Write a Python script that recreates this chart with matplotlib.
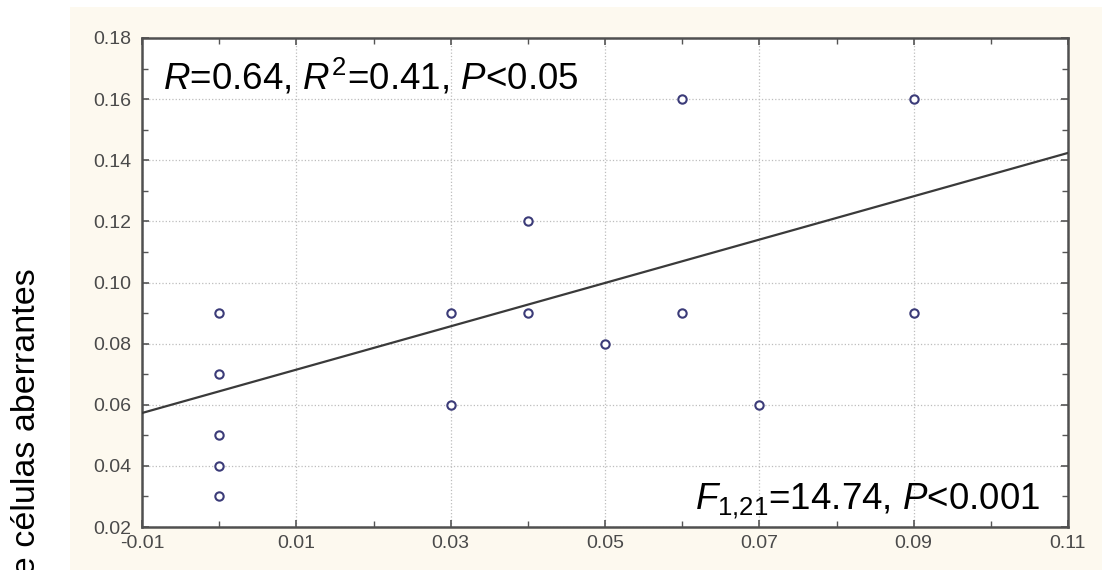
import numpy as np
import matplotlib
matplotlib.use("Agg")
import matplotlib.pyplot as plt
from matplotlib.patches import Rectangle
from matplotlib.ticker import MultipleLocator

plt.rcParams['font.family'] = ['Liberation Sans', 'DejaVu Sans']
plt.rcParams['mathtext.fontset'] = 'custom'
plt.rcParams['mathtext.rm'] = 'Liberation Sans'
plt.rcParams['mathtext.it'] = 'Liberation Sans:italic'

# visible observations (overlapping points drawn once)
x_vals = [0.00, 0.00, 0.00, 0.00, 0.00, 0.03, 0.03, 0.04, 0.04, 0.05,
          0.06, 0.06, 0.07, 0.09, 0.09]
y_vals = [0.09, 0.07, 0.05, 0.04, 0.03, 0.09, 0.06, 0.12, 0.09, 0.08,
          0.16, 0.09, 0.06, 0.16, 0.09]

# fitted regression line endpoints
fit_x = [-0.01, 0.11]
fit_y = [0.0573, 0.1424]

x_ticks = [-0.01, 0.01, 0.03, 0.05, 0.07, 0.09, 0.11]
y_ticks = [0.02, 0.04, 0.06, 0.08, 0.10, 0.12, 0.14, 0.16, 0.18]

stats_top = r"$R$=0.64, $R^{2}$=0.41, $P$<0.05"
stats_bottom = r"$F_{1{,}21}$=14.74, $P$<0.001"
y_label = "% de células aberrantes"

fig = plt.figure(figsize=(11.02, 5.70), dpi=100, facecolor='white')
# cream panel behind the plot
fig.patches.append(Rectangle((70 / 1102, 0), 1, 1 - 7 / 570, transform=fig.transFigure,
                             facecolor='#fdf9ef', edgecolor='none', zorder=-10))

ax = fig.add_axes([142 / 1102, 1 - 527 / 570, (1068 - 142) / 1102, (527 - 38) / 570])
ax.set_facecolor('white')

ax.plot(fit_x, fit_y, color='#3a3a3a', lw=1.6, zorder=3)
ax.plot(x_vals, y_vals, 'o', ms=6, mfc='white', mec='#3b3b78', mew=1.5,
        ls='none', zorder=4)

ax.set_xlim(-0.01, 0.11)
ax.set_ylim(0.02, 0.18)
ax.set_xticks(x_ticks)
ax.set_yticks(y_ticks)
ax.set_xticklabels([f"{v:.2f}" for v in x_ticks])
ax.set_yticklabels([f"{v:.2f}" for v in y_ticks])
ax.xaxis.set_minor_locator(MultipleLocator(0.01))
ax.yaxis.set_minor_locator(MultipleLocator(0.01))

ax.tick_params(which='both', direction='in', top=True, right=True,
               color='#555555', labelcolor='#4a4a4a', labelsize=14)
ax.tick_params(which='major', length=5, width=1.2)
ax.tick_params(which='minor', length=4, width=1.0)
ax.tick_params(axis='y', pad=8)
ax.tick_params(axis='x', pad=6)

ax.grid(True, which='major', ls=':', color='#bdbdbd', lw=0.9)
for s in ax.spines.values():
    s.set_color('#505050')
    s.set_linewidth(1.8)

ax.text(0.023, 0.895, stats_top, transform=ax.transAxes, fontsize=26.5,
        ha='left', va='baseline', color='black')
ax.text(0.970, 0.035, stats_bottom, transform=ax.transAxes, fontsize=26.5,
        ha='right', va='baseline', color='black')

# label runs off the bottom edge, as in the source figure
fig.text(27 / 1102, 1 - 268 / 570, y_label, rotation=90, fontsize=24.5,
         ha='center', va='top', color='black')

fig.savefig("out.png", dpi=100, facecolor=fig.get_facecolor())
